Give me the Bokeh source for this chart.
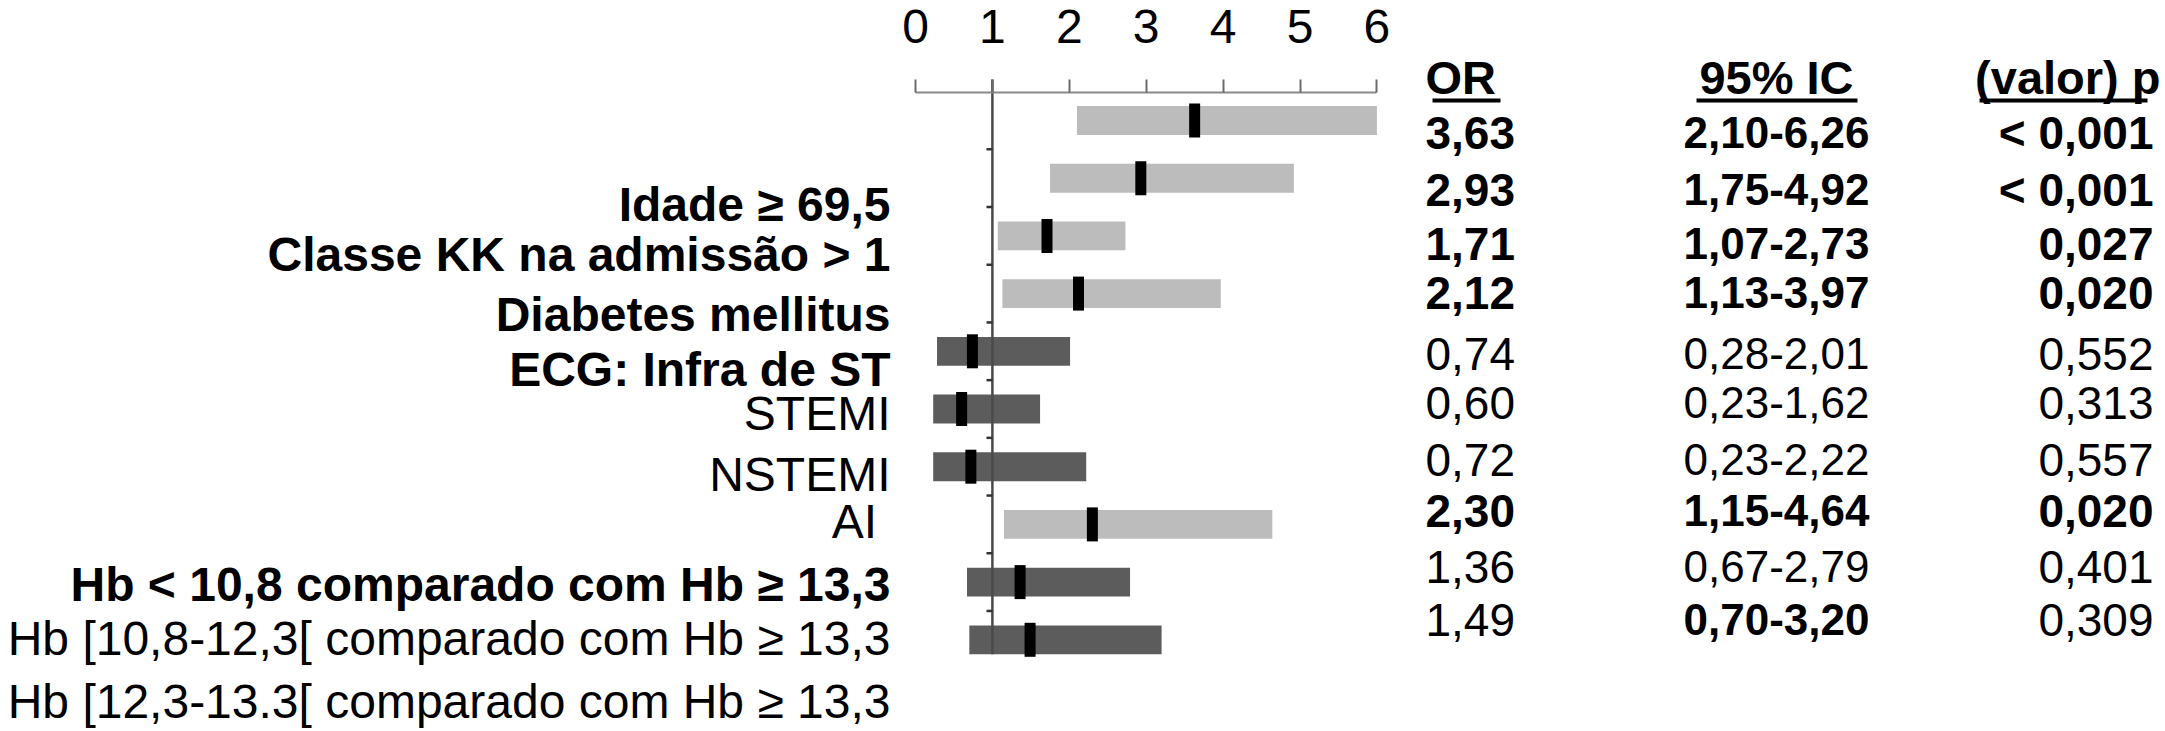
import numpy as np
from bokeh.plotting import figure
from bokeh.models import Range1d, LinearAxis, FixedTicker, ColumnDataSource
from bokeh.core.properties import value
from bokeh.embed import file_html
from bokeh.resources import INLINE

# ---------------- data ----------------
labels = [
    "Idade \u2265 69,5",
    "Classe KK na admiss\u00e3o > 1",
    "Diabetes mellitus",
    "ECG: Infra de ST",
    "STEMI",
    "NSTEMI",
    "AI\u00a0",
    "Hb < 10,8 comparado com Hb \u2265 13,3",
    "Hb [10,8-12,3[ comparado com Hb \u2265 13,3",
    "Hb [12,3-13.3[ comparado com Hb \u2265 13,3",
]
label_bold = [True, True, True, True, False, False, False, True, False, False]

odds_ratio = [3.63, 2.93, 1.71, 2.12, 0.74, 0.60, 0.72, 2.30, 1.36, 1.49]
ci_low = [2.10, 1.75, 1.07, 1.13, 0.28, 0.23, 0.23, 1.15, 0.67, 0.70]
ci_high = [6.26, 4.92, 2.73, 3.97, 2.01, 1.62, 2.22, 4.64, 2.79, 3.20]
significant = [True, True, True, True, False, False, False, True, False, False]

or_text = ["3,63", "2,93", "1,71", "2,12", "0,74", "0,60", "0,72", "2,30", "1,36", "1,49"]
ci_text = ["2,10-6,26", "1,75-4,92", "1,07-2,73", "1,13-3,97", "0,28-2,01",
           "0,23-1,62", "0,23-2,22", "1,15-4,64", "0,67-2,79", "0,70-3,20"]
p_text = ["< 0,001", "< 0,001", "0,027", "0,020", "0,552", "0,313", "0,557", "0,020", "0,401", "0,309"]
or_bold = [True, True, True, True, False, False, False, True, False, False]
ci_bold = [True, True, True, True, False, False, False, True, False, True]
p_bold = [True, True, True, True, False, False, False, True, False, False]

headers = ["OR", "95% IC", "(valor) p"]
ticks = [0, 1, 2, 3, 4, 5, 6]
null_value = 1

# ---------------- layout (screen pixels) ----------------
W, H = 2165, 731
X0_PX, PX_PER_UNIT = 915.0, 76.9      # screen x of OR = 0, px per OR unit
ROW0_PX, ROW_PX = 120.0, 57.7         # screen y of first bar, px per row
AXIS_PX = 92
LINE_TOP_PX = 79

label_right_px = 890
label_mid_px = [204, 254, 314, 369, 413, 474, 521, 584, 638, 701]
table_mid_px = [132, 189, 243, 292, 353, 402, 459, 510, 566, 619]
col_or_left_px = 1425
col_ci_center_px = 1776
col_p_right_px = 2153
header_mid_px = 77
header_x_px = [1425, 1776, 2160]
header_align = ["left", "center", "right"]
underline_px = [(1432, 1500), (1696, 1857), (1979, 2147)]
underline_y_px = 100

FONT = value("Liberation Sans")
LIGHT, DARK = "#bcbcbc", "#5c5c5c"


def xd(sx):
    return (sx - X0_PX) / PX_PER_UNIT


def yd(sy):
    return (sy - ROW0_PX) / ROW_PX


n = len(odds_ratio)
rows = list(range(n))

p = figure(width=W, height=H,
           x_range=Range1d(xd(0), xd(W)),
           y_range=Range1d(yd(H), yd(0)),
           output_backend="svg", toolbar_location=None,
           x_axis_location=None, y_axis_location=None,
           min_border=0, outline_line_color=None)
p.grid.visible = False
p.background_fill_color = "white"
p.border_fill_color = "white"

# top axis, drawn at a fixed location inside the frame
ax = LinearAxis(fixed_location=yd(AXIS_PX), bounds=(ticks[0], ticks[-1]),
                ticker=FixedTicker(ticks=ticks))
ax.axis_line_color = "#8a8a8a"
ax.axis_line_width = 2
ax.major_tick_line_color = "#6a6a6a"
ax.major_tick_line_width = 2
ax.major_tick_out = 13
ax.major_tick_in = 0
ax.minor_tick_out = 0
ax.minor_tick_in = 0
ax.major_label_text_font = "Liberation Sans"
ax.major_label_text_font_size = "48px"
ax.major_label_text_color = "black"
ax.major_label_standoff = 37
p.add_layout(ax, "above")

# bars
bar_h = 0.5
src = ColumnDataSource(dict(
    row=rows,
    lo=ci_low,
    hi=list(np.minimum(ci_high, ticks[-1])),
    OR=odds_ratio,
    color=[LIGHT if s else DARK for s in significant],
))
p.hbar(y="row", left="lo", right="hi", height=bar_h, fill_color="color",
       line_color=None, source=src)

# reference line at OR = 1
p.segment(x0=[null_value], y0=[yd(LINE_TOP_PX)], x1=[null_value], y1=[rows[-1] + bar_h / 2],
          line_color="#4a4a4a", line_width=2.5)
# small row-boundary marks on the reference line
bnd = [r + 0.5 for r in rows[:-1]]
p.segment(x0=[xd(986)] * len(bnd), y0=bnd, x1=[xd(992)] * len(bnd), y1=bnd,
          line_color="#333333", line_width=2.5)

# OR markers
p.rect(x="OR", y="row", width=11, height=34, width_units="screen",
       height_units="screen", fill_color="black", line_color=None, source=src)

# left labels
lab_src = ColumnDataSource(dict(
    x=[xd(label_right_px)] * n,
    y=[yd(v) for v in label_mid_px],
    text=labels,
    style=["bold" if b else "normal" for b in label_bold],
))
p.text(x="x", y="y", text="text", text_font_style="style", source=lab_src,
       text_font=FONT, text_font_size="48px", text_align="right",
       text_baseline="middle", text_color="black")


# table
def col(texts, bolds, xpx, align, size):
    s = ColumnDataSource(dict(
        x=[xd(xpx)] * n,
        y=[yd(v) for v in table_mid_px],
        text=texts,
        style=["bold" if b else "normal" for b in bolds],
    ))
    p.text(x="x", y="y", text="text", text_font_style="style", source=s,
           text_font=FONT, text_font_size=size, text_align=align,
           text_baseline="middle", text_color="black")


col(or_text, or_bold, col_or_left_px, "left", "46px")
col(ci_text, ci_bold, col_ci_center_px, "center", "44px")
col(p_text, p_bold, col_p_right_px, "right", "46px")

for h, hx, ha in zip(headers, header_x_px, header_align):
    p.text(x=[xd(hx)], y=[yd(header_mid_px)], text=[h], text_font=FONT,
           text_font_size="47px", text_font_style="bold", text_align=ha,
           text_baseline="middle", text_color="black")

p.segment(x0=[xd(a) for a, b in underline_px], x1=[xd(b) for a, b in underline_px],
          y0=[yd(underline_y_px)] * 3, y1=[yd(underline_y_px)] * 3,
          line_color="black", line_width=4)

open("out.html", "w").write(file_html(p, INLINE))
